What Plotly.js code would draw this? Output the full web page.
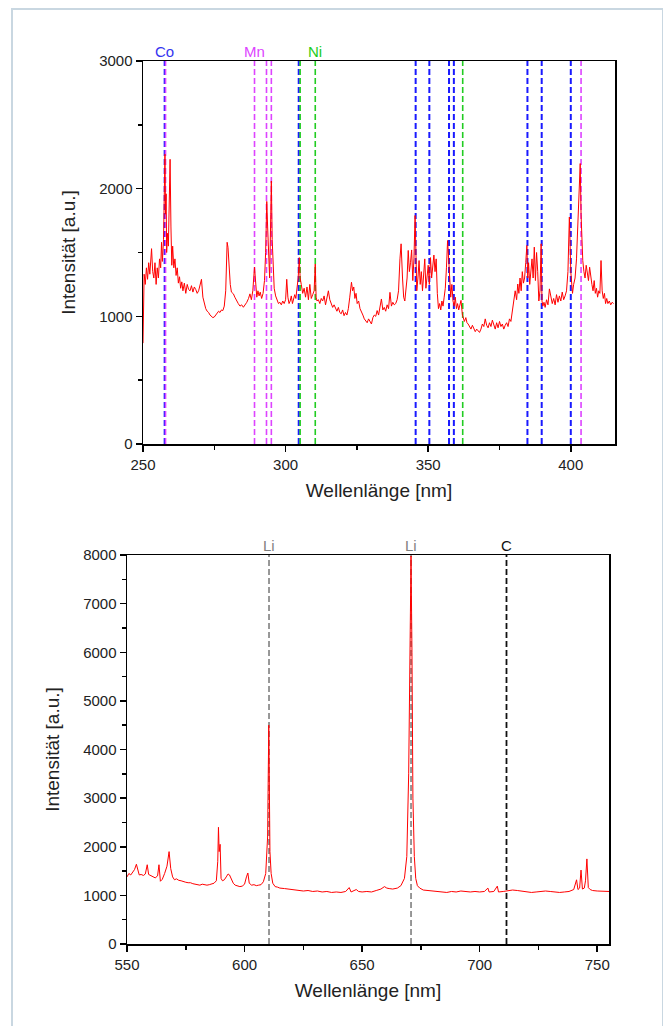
<!DOCTYPE html>
<html>
<head>
<meta charset="utf-8">
<script src="https://cdn.plot.ly/plotly-3.0.1.min.js"></script>
<style>
html,body{margin:0;padding:0;background:#fff;}
#frame{position:absolute;left:11px;top:8px;width:649px;height:1030px;border:2px solid #c9d7e1;border-bottom:none;}
#chart{position:absolute;left:0;top:0;width:663px;height:1026px;}
</style>
</head>
<body>
<div id="frame"></div>
<div id="chart"></div>
<script>
// ---- Top spectrum (250–415 nm) ----
const topWl = [250.0,250.2,250.4,250.8,251.2,251.6,252.0,252.4,252.8,253.0,253.4,253.8,254.2,254.6,255.0,255.4,255.8,256.2,256.5,256.8,257.2,257.5,257.7,257.9,258.1,258.3,258.6,258.9,259.2,259.5,259.8,260.1,260.4,260.8,261.2,261.6,262.0,262.4,262.8,263.2,263.6,264.0,264.5,265.0,265.5,266.0,266.5,267.0,267.5,268.0,268.5,269.0,269.5,270.0,270.5,271.0,271.5,272.0,272.5,273.0,273.5,274.0,274.5,275.0,275.5,276.0,276.5,277.0,277.5,278.0,278.5,279.0,279.5,279.8,280.2,280.6,281.0,281.7,282.2,282.8,283.4,284.0,284.6,285.2,285.8,286.4,287.0,287.5,288.0,288.5,289.1,289.5,289.9,290.3,290.7,291.1,291.6,292.1,292.6,293.0,293.4,293.7,294.0,294.4,294.8,295.0,295.3,295.6,296.0,296.5,297.0,297.5,298.0,298.5,299.0,299.5,300.0,300.4,300.8,301.2,301.6,302.0,302.4,302.8,303.2,303.6,304.0,304.4,304.8,305.1,305.5,306.0,306.5,307.0,307.5,308.0,308.5,309.0,309.5,310.0,310.4,310.7,311.0,311.5,312.0,312.5,313.0,313.5,314.0,314.5,315.0,315.5,316.0,316.5,317.0,317.5,318.0,318.5,319.0,319.5,320.0,320.5,321.0,321.5,322.0,322.5,323.1,323.5,323.9,324.3,324.7,325.1,325.6,326.1,326.6,327.1,327.6,328.1,328.6,329.1,329.6,330.1,330.6,331.1,331.6,332.1,332.6,333.1,333.6,334.1,334.6,335.1,335.6,336.1,336.6,337.1,337.6,338.1,338.6,339.1,339.6,340.1,340.5,341.0,341.4,341.8,342.2,342.6,343.0,343.4,343.8,344.2,344.6,345.0,345.4,345.7,346.0,346.4,346.8,347.2,347.6,348.0,348.4,348.8,349.2,349.6,350.0,350.4,350.8,351.2,351.6,352.0,352.4,352.8,353.2,353.6,354.0,354.4,354.8,355.2,355.6,356.0,356.4,356.8,357.3,357.6,357.9,358.3,358.7,359.1,359.5,359.9,360.3,360.7,361.1,361.5,362.0,362.3,362.7,363.2,363.6,364.0,364.5,365.0,365.5,366.0,366.5,367.0,367.5,368.0,368.5,369.0,369.5,370.0,370.5,371.0,371.5,372.0,372.5,373.0,373.5,374.0,374.5,375.0,375.5,376.0,376.5,377.0,377.5,378.0,378.5,379.0,379.5,380.0,380.5,381.0,381.4,381.8,382.2,382.6,383.0,383.4,383.8,384.2,384.6,384.9,385.2,385.6,386.0,386.4,386.8,387.2,387.6,388.0,388.4,388.8,389.2,389.6,389.9,390.2,390.6,391.0,391.5,392.0,392.5,393.0,393.5,394.0,394.5,395.0,395.5,396.0,396.5,397.0,397.5,398.0,398.5,399.0,399.5,400.0,400.3,400.6,401.0,401.5,402.0,402.5,403.0,403.3,403.6,403.9,404.2,404.6,405.0,405.4,405.8,406.2,406.6,407.0,407.4,407.8,408.2,408.6,409.0,409.4,409.8,410.2,410.6,411.0,411.4,411.8,412.2,412.6,413.0,413.5,414.0,414.5,415.0,415.5];
const topInt = [790,1100,1330,1250,1380,1290,1420,1330,1460,1530,1350,1300,1420,1250,1380,1300,1450,1380,1580,1430,1600,1950,2270,1800,1960,1500,1650,1550,1800,2230,1700,1400,1550,1380,1450,1320,1380,1260,1310,1220,1270,1200,1260,1180,1250,1210,1200,1240,1190,1230,1210,1180,1200,1250,1290,1150,1090,1060,1040,1030,1010,1000,990,995,1010,1020,1040,1030,1050,1045,1080,1200,1580,1540,1380,1250,1190,1176,1150,1120,1100,1080,1090,1071,1090,1110,1140,1176,1130,1200,1385,1230,1150,1200,1160,1190,1140,1180,1280,1500,1900,1700,1450,1300,1800,2060,1600,1350,1220,1160,1120,1100,1110,1090,1120,1100,1130,1290,1150,1100,1120,1160,1100,1130,1170,1140,1210,1300,1460,1300,1250,1180,1220,1150,1230,1130,1250,1140,1170,1200,1410,1150,1120,1130,1100,1140,1120,1160,1090,1150,1200,1130,1090,1070,1090,1060,1040,1070,1030,1020,1050,1005,1030,1010,1060,1150,1267,1200,1230,1140,1180,1100,1120,1060,1040,1010,980,960,950,980,953,940,990,1010,1000,1045,1010,1060,1136,1050,1070,1040,1090,1060,1188,1080,1110,1090,1100,1130,1200,1450,1568,1300,1150,1120,1200,1300,1516,1350,1420,1520,1280,1450,1790,1400,1200,1300,1437,1250,1350,1200,1385,1450,1220,1300,1400,1250,1460,1300,1420,1480,1350,1450,1180,1060,1100,1050,1120,1080,1150,1220,1380,1594,1400,1200,1150,1250,1120,1080,1150,1060,1100,1050,1080,1125,1010,980,960,990,950,940,920,900,930,910,880,900,890,874,900,940,920,980,930,910,950,920,970,930,900,950,910,960,920,940,900,930,950,920,980,960,1050,1100,1200,1130,1253,1180,1300,1200,1350,1260,1300,1420,1555,1300,1420,1250,1380,1450,1300,1542,1280,1500,1350,1120,1200,1568,1120,1080,1110,1070,1130,1090,1215,1150,1100,1140,1090,1170,1110,1160,1120,1190,1130,1160,1200,1350,1778,1350,1220,1180,1250,1300,1450,1700,2000,2197,1800,1550,1437,1350,1300,1400,1330,1280,1385,1300,1250,1200,1280,1180,1220,1150,1200,1180,1437,1200,1140,1180,1100,1140,1100,1120,1090,1110,1100];

// ---- Bottom spectrum (550–755 nm) ----
const botWl = [550.0,550.8,551.6,552.4,553.2,554.0,554.6,555.2,556.0,557.0,557.8,558.6,559.2,560.0,561.0,562.0,563.0,563.6,564.2,565.0,566.0,567.0,567.9,568.6,569.4,570.2,571.0,572.0,573.0,574.0,575.0,576.0,577.0,578.0,579.0,580.0,581.0,582.0,583.0,584.0,585.0,586.0,587.0,588.0,588.6,588.9,589.2,589.6,590.0,590.6,591.4,592.2,593.0,593.6,594.4,595.2,596.0,597.0,598.0,599.0,600.0,600.8,601.4,602.0,603.0,604.0,605.0,606.0,607.0,608.0,609.0,609.8,610.3,610.8,611.3,612.0,613.0,614.0,615.0,617.0,619.0,621.0,623.0,625.0,627.0,629.0,631.0,633.0,635.0,637.0,639.0,641.0,643.0,644.5,645.3,646.5,647.5,648.5,650.0,652.0,654.0,656.0,658.0,659.5,660.5,661.5,663.0,665.0,666.5,668.0,669.0,669.8,670.4,670.8,671.2,671.6,672.2,672.8,673.5,674.5,676.0,678.0,680.0,682.0,684.0,686.0,688.0,690.0,692.0,694.0,696.0,698.0,700.0,702.0,703.5,704.0,706.0,707.5,708.0,710.0,712.0,714.0,716.0,718.0,720.0,722.0,724.0,726.0,728.0,730.0,732.0,734.0,736.0,738.0,740.0,741.2,741.8,742.5,743.1,743.7,744.5,745.0,745.6,746.2,747.0,748.0,750.0,752.0,754.0,755.0];
const botInt = [1380,1450,1420,1480,1530,1640,1500,1420,1430,1410,1440,1630,1430,1410,1390,1360,1400,1630,1290,1330,1450,1600,1900,1550,1380,1320,1340,1310,1300,1280,1270,1260,1260,1240,1230,1220,1210,1230,1220,1210,1220,1230,1250,1300,1700,2400,1900,2050,1350,1300,1320,1380,1440,1420,1320,1250,1210,1190,1180,1190,1230,1380,1460,1250,1210,1220,1200,1210,1220,1280,1450,2200,4500,1900,1450,1250,1180,1170,1150,1140,1130,1120,1100,1090,1100,1080,1090,1070,1080,1060,1070,1060,1080,1160,1070,1090,1120,1080,1070,1080,1070,1100,1130,1180,1150,1140,1130,1150,1200,1350,1800,3500,6500,7980,6000,3000,1800,1350,1200,1150,1110,1100,1090,1080,1070,1060,1080,1070,1090,1080,1070,1080,1070,1080,1150,1070,1080,1190,1070,1080,1100,1110,1100,1090,1080,1060,1070,1080,1090,1080,1070,1060,1070,1080,1120,1320,1120,1150,1520,1130,1150,1300,1750,1160,1120,1100,1090,1080,1070,1080];

// ---- Element reference lines ----
const coLines = [257.6, 304.6, 345.6, 350.4, 357.3, 359.0, 384.8, 389.8, 400.0];
const mnLines = [257.9, 289.1, 293.3, 295.0, 403.6];
const niLines = [305.1, 310.4, 362.1];
const liLines = [610.4, 670.8];
const cLines = [711.4];

const topLabels = ['Co', 'Mn', 'Ni'];
const topLabelPos = [257.7, 289.1, 310.4];
const botLabels = ['Li', 'Li', 'C'];
const botLabelPos = [610.4, 670.8, 711.4];

const topTicks = [250, 300, 350, 400];
const topYTicks = [0, 1000, 2000, 3000];
const botTicks = [550, 600, 650, 700, 750];
const botYTicks = [0, 1000, 2000, 3000, 4000, 5000, 6000, 7000, 8000];

const COL = {blue:'#1a1aff', mag:'#dd44ff', green:'#22cc22', gray:'#7f7f7f', black:'#111111'};
const labelColors = {Co:'#3434f0', Mn:'#dd44ff', Ni:'#22cc22', Li:'#7f7f7f', C:'#111111'};

function vlines(arr, xref, yref, color, width) {
  return arr.map(x => ({type:'line', xref:xref, yref:yref + ' domain', x0:x, x1:x, y0:0, y1:1,
    layer:'below', line:{color:color, width:width, dash:'6px,3px'}}));
}

const shapes = [].concat(
  vlines(coLines, 'x', 'y', COL.blue, 2),
  vlines(mnLines, 'x', 'y', COL.mag, 1.6),
  vlines(niLines, 'x', 'y', COL.green, 1.6),
  vlines(liLines, 'x2', 'y2', COL.gray, 1.6),
  vlines(cLines, 'x2', 'y2', COL.black, 1.8)
);

const annotations = [];
topLabels.forEach((t, i) => annotations.push({text:t, x:topLabelPos[i], xref:'x', y:1, yref:'y domain',
  yanchor:'bottom', xanchor:'center', showarrow:false, yshift:-1, font:{size:15, color:labelColors[t]}}));
botLabels.forEach((t, i) => annotations.push({text:t, x:botLabelPos[i], xref:'x2', y:1, yref:'y2 domain',
  yanchor:'bottom', xanchor:'center', showarrow:false, yshift:-1, font:{size:15, color:labelColors[t]}}));

const axBase = {showgrid:false, zeroline:false, showline:true, linecolor:'#000', linewidth:1.5, mirror:true,
  ticks:'outside', ticklen:6, tickwidth:1.5, tickcolor:'#000', tickfont:{size:15, color:'#222'}};

const traces = [
  {x: topWl, y: topInt, xaxis:'x', yaxis:'y', type:'scatter', mode:'lines', line:{color:'#ff0000', width:1}, hoverinfo:'skip'},
  {x: botWl, y: botInt, xaxis:'x2', yaxis:'y2', type:'scatter', mode:'lines', line:{color:'#ff0000', width:1}, hoverinfo:'skip'}
];

const layout = {
  width:663, height:1026, margin:{l:0, r:0, t:0, b:0},
  paper_bgcolor:'rgba(0,0,0,0)', plot_bgcolor:'#fff', showlegend:false,
  font:{family:'"Liberation Sans", Arial, sans-serif', size:15, color:'#222'},
  xaxis: Object.assign({}, axBase, {domain:[143/663, 615/663], range:[250, 415.5], anchor:'y',
    tickvals: topTicks, minor:{dtick:25, tick0:250, ticks:'outside', ticklen:4, tickwidth:1.5, tickcolor:'#000'},
    title:{text:'Wellenlänge [nm]', font:{size:19, color:'#222'}, standoff:12}}),
  yaxis: Object.assign({}, axBase, {domain:[1-444/1026, 1-61/1026], range:[0, 3000], anchor:'x',
    tickvals: topYTicks, minor:{dtick:500, tick0:0, ticks:'outside', ticklen:4, tickwidth:1.5, tickcolor:'#000'},
    title:{text:'Intensität [a.u.]', font:{size:19, color:'#222'}, standoff:18}}),
  xaxis2: Object.assign({}, axBase, {domain:[127/663, 609/663], range:[550, 755], anchor:'y2',
    tickvals: botTicks, minor:{dtick:25, tick0:550, ticks:'outside', ticklen:4, tickwidth:1.5, tickcolor:'#000'},
    title:{text:'Wellenlänge [nm]', font:{size:19, color:'#222'}, standoff:12}}),
  yaxis2: Object.assign({}, axBase, {domain:[1-944/1026, 1-555/1026], range:[0, 8000], anchor:'x2',
    tickvals: botYTicks, minor:{dtick:500, tick0:0, ticks:'outside', ticklen:4, tickwidth:1.5, tickcolor:'#000'},
    title:{text:'Intensität [a.u.]', font:{size:19, color:'#222'}, standoff:18}}),
  shapes: shapes,
  annotations: annotations
};

Plotly.newPlot('chart', traces, layout, {staticPlot:true, displayModeBar:false});
</script>
</body>
</html>
